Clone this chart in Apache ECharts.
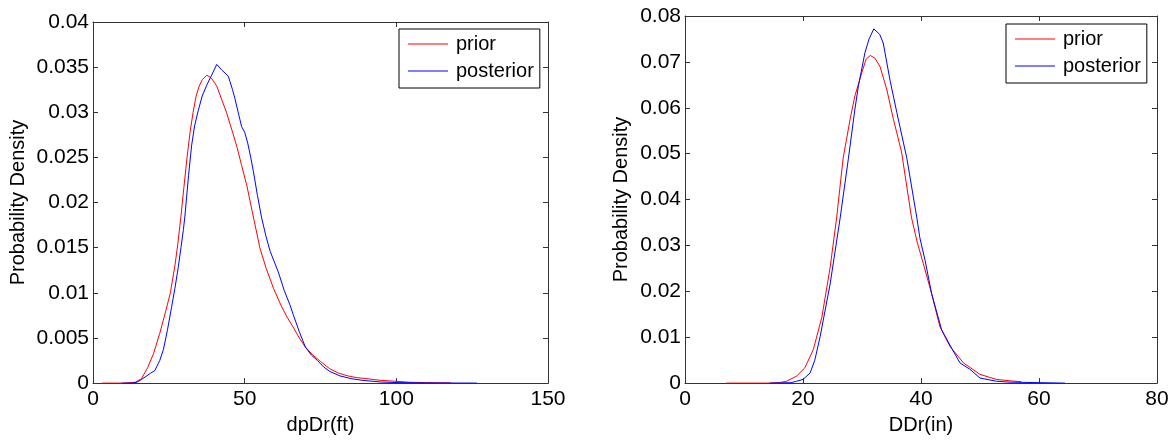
<!DOCTYPE html>
<html><head><meta charset="utf-8">
<script src="https://cdn.jsdelivr.net/npm/echarts@6/dist/echarts.min.js"></script>
<style>html,body{margin:0;padding:0;background:#fff}#c{width:1174px;height:440px}</style>
</head><body><div id="c"></div>
<script>
const seriesNames = ['prior', 'posterior'];
const leftXName = 'dpDr(ft)';
const rightXName = 'DDr(in)';
const yName = 'Probability Density';

// Left panel: prior
const leftPriorX = [3, 10, 14, 16, 18, 20, 22, 24, 25.5, 27, 28, 29, 30, 31, 32, 33, 34, 35, 36, 37.5, 39, 40.8, 42, 44, 46, 47.5, 49, 50.7, 52.5, 55, 57, 59.5, 62, 64, 66, 68, 70, 72.5, 75, 78, 81, 84, 87, 90, 95, 100, 104, 110, 118];
const leftPriorY = [0, 0, 0.0001, 0.0005, 0.0017, 0.0033, 0.0055, 0.0080, 0.0100, 0.0130, 0.0155, 0.0185, 0.0218, 0.0250, 0.0278, 0.0300, 0.0318, 0.0329, 0.0336, 0.0341, 0.0338, 0.0329, 0.0318, 0.0300, 0.0278, 0.0261, 0.0241, 0.0219, 0.0190, 0.0150, 0.0128, 0.0105, 0.0086, 0.0073, 0.0062, 0.0050, 0.0040, 0.0031, 0.0024, 0.0016, 0.0011, 0.0008, 0.0006, 0.0005, 0.0003, 0.0002, 0.0001, 0.00005, 0.00002];
// Left panel: posterior
const leftPostX = [9.5, 13, 14.5, 16, 17.7, 19, 20.4, 22, 23.2, 24.5, 25.9, 27, 28.1, 29, 29.8, 30.3, 31.5, 32.5, 33.5, 34.7, 36, 37.5, 39.1, 40.8, 42.4, 44.6, 46, 46.8, 48, 49, 50, 51, 52, 52.9, 54.2, 55.6, 57, 58.4, 61.1, 63, 65, 66, 68, 70, 72, 74, 76, 78, 81.4, 85, 89, 95, 100, 110, 126.6];
const leftPostY = [0, 0, 0.0001, 0.0004, 0.0008, 0.0011, 0.0014, 0.0025, 0.0037, 0.0058, 0.0084, 0.0105, 0.0128, 0.0150, 0.0170, 0.0185, 0.0230, 0.0263, 0.0285, 0.0302, 0.0318, 0.0330, 0.0341, 0.0353, 0.0347, 0.0340, 0.0325, 0.0315, 0.0298, 0.0284, 0.0278, 0.0266, 0.0250, 0.0234, 0.0208, 0.0183, 0.0163, 0.0146, 0.0123, 0.0103, 0.0086, 0.0076, 0.0057, 0.0040, 0.0031, 0.0025, 0.0018, 0.0013, 0.0008, 0.0005, 0.0003, 0.00012, 0.00006, 0.00002, 0];

// Right panel: prior
const rightPriorX = [7, 14, 16, 17.2, 18.9, 20.3, 21.75, 23.2, 24.6, 25.7, 26.8, 28, 28.8, 29.95, 30.7, 31.4, 32.2, 33.05, 34.2, 35.3, 36.7, 38.4, 39.4, 40.4, 41.8, 43.2, 44.9, 47.2, 50, 52.8, 55.1, 57];
const rightPriorY = [0, 0, 0.0001, 0.0004, 0.0015, 0.0033, 0.0073, 0.0144, 0.0252, 0.0360, 0.0490, 0.0576, 0.0626, 0.0676, 0.0706, 0.0714, 0.0708, 0.0690, 0.0640, 0.0576, 0.0504, 0.0360, 0.0305, 0.0260, 0.0195, 0.0123, 0.0080, 0.0044, 0.0019, 0.0008, 0.0005, 0.0003];
// Right panel: posterior
const rightPostX = [14.4, 18, 18.9, 20, 21.2, 22, 22.9, 24.6, 26.3, 27.7, 28.8, 29.4, 30.5, 31.2, 32, 33, 33.6, 34.75, 35.9, 37.6, 39.3, 39.8, 40.7, 41.8, 43.5, 45.2, 46.6, 48.3, 50, 52.8, 55.1, 60, 64.4];
const rightPostY = [0, 0.0001, 0.0004, 0.0008, 0.0022, 0.0050, 0.0101, 0.0216, 0.0360, 0.0490, 0.0597, 0.0648, 0.0720, 0.0750, 0.0772, 0.0760, 0.0741, 0.0660, 0.0590, 0.0490, 0.0360, 0.0317, 0.0267, 0.0195, 0.0116, 0.0076, 0.0044, 0.0030, 0.0011, 0.0004, 0.0002, 0.0001, 0];

const leftXTicks = {min: 0, max: 150, interval: 50};
const leftYTicks = {min: 0, max: 0.04, interval: 0.005};
const rightXTicks = {min: 0, max: 80, interval: 20};
const rightYTicks = {min: 0, max: 0.08, interval: 0.01};

const FONT = 'Liberation Sans, Arial, Helvetica, sans-serif';
const zip = (xs, ys) => xs.map((x, i) => [x, ys[i]]);
const axisLine = {show: true, onZero: false, lineStyle: {color: '#333', width: 1}};
const axisTick = {show: true, inside: true, length: 5, lineStyle: {color: '#333', width: 1}};
const fmt = v => String(parseFloat(Number(v).toFixed(4)));

function xAxis(grid, t, name, position, labels) {
  return {
    type: 'value', gridIndex: grid, position: position, min: t.min, max: t.max, interval: t.interval,
    name: labels ? name : '', nameLocation: 'middle', nameGap: 30,
    nameTextStyle: {fontSize: 20, fontFamily: FONT, color: '#000'},
    axisLine: axisLine, axisTick: axisTick, splitLine: {show: false},
    axisLabel: {show: labels, fontSize: 21, fontFamily: FONT, color: '#000', margin: 6, formatter: fmt}
  };
}
function yAxis(grid, t, gap, position, labels) {
  return {
    type: 'value', gridIndex: grid, position: position, min: t.min, max: t.max, interval: t.interval,
    name: labels ? yName : '', nameLocation: 'middle', nameGap: gap, nameRotate: 90,
    nameTextStyle: {fontSize: 20, fontFamily: FONT, color: '#000'},
    axisLine: axisLine, axisTick: axisTick, splitLine: {show: false},
    axisLabel: {show: labels, fontSize: 21, fontFamily: FONT, color: '#000', margin: 4, formatter: fmt}
  };
}
function legend(left, top) {
  return {
    data: seriesNames, orient: 'vertical', left: left, top: top,
    padding: [5, 6, 7, 9], itemGap: 7, itemWidth: 40, itemHeight: 1, icon: 'rect',
    backgroundColor: '#fff', borderColor: '#000', borderWidth: 1, borderRadius: 0,
    textStyle: {fontSize: 20, fontFamily: FONT, color: '#000', lineHeight: 20, padding: [0, 0, 0, 3]},
    selectedMode: false
  };
}
function line(name, data, xi, yi, color) {
  return {
    name: name, type: 'line', xAxisIndex: xi, yAxisIndex: yi, data: data,
    symbol: 'none', smooth: false, lineStyle: {color: color, width: 1}, itemStyle: {color: color}
  };
}

const chart = echarts.init(document.getElementById('c'), null, {renderer: 'canvas'});
chart.setOption({
  animation: false,
  backgroundColor: '#fff',
  grid: [
    {left: 93, top: 22, width: 455, height: 365},
    {left: 685, top: 16, width: 472, height: 371}
  ],
  xAxis: [
    xAxis(0, leftXTicks, leftXName, 'bottom', true),
    xAxis(0, leftXTicks, leftXName, 'top', false),
    xAxis(1, rightXTicks, rightXName, 'bottom', true),
    xAxis(1, rightXTicks, rightXName, 'top', false)
  ],
  yAxis: [
    yAxis(0, leftYTicks, 65, 'left', true),
    yAxis(0, leftYTicks, 65, 'right', false),
    yAxis(1, rightYTicks, 54, 'left', true),
    yAxis(1, rightYTicks, 54, 'right', false)
  ],
  legend: [legend(399, 29), legend(1006, 24)],
  series: [
    line(seriesNames[0], zip(leftPriorX, leftPriorY), 0, 0, '#ff0000'),
    line(seriesNames[1], zip(leftPostX, leftPostY), 0, 0, '#0000ff'),
    line(seriesNames[0], zip(rightPriorX, rightPriorY), 2, 2, '#ff0000'),
    line(seriesNames[1], zip(rightPostX, rightPostY), 2, 2, '#0000ff')
  ]
});
</script></body></html>
